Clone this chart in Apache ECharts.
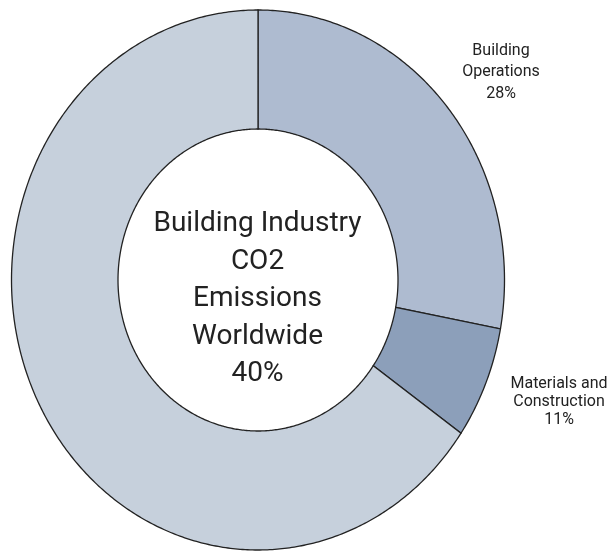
<!DOCTYPE html>
<html>
<head>
<meta charset="utf-8">
<script src="https://cdn.jsdelivr.net/npm/echarts@6/dist/echarts.min.js"></script>
<style>html,body{margin:0;padding:0;background:#fff}#c{width:609px;height:551px}</style>
</head>
<body>
<div id="c"></div>
<script>
// Data
const categories = ['Building Operations', 'Materials and Construction', 'Other'];
const values = [27.9, 6.7, 65.4];
const labelLines = [['Building', 'Operations', '28%'], ['Materials and', 'Construction', '11%'], null];
const colors = ['#aebbd0', '#8c9fba', '#c6d0dc'];
const centerLines = ['Building Industry', 'CO2', 'Emissions', 'Worldwide', '40%'];

const total = values.reduce((a, b) => a + b, 0);
const starts = [];
let acc = 0;
values.forEach(v => { starts.push(acc); acc += v; });

const CX = 258, CY = 280, RX = 246.5, RY = 270, IRX = 140, IRY = 151;

const chart = echarts.init(document.getElementById('c'), null, { renderer: 'canvas' });

function ringPoints(f0, f1) {
  const a0 = -Math.PI / 2 + f0 * 2 * Math.PI;
  const a1 = -Math.PI / 2 + f1 * 2 * Math.PI;
  const n = Math.max(8, Math.ceil((a1 - a0) / 0.01));
  const pts = [];
  for (let i = 0; i <= n; i++) {
    const a = a0 + (a1 - a0) * i / n;
    pts.push([CX + RX * Math.cos(a), CY + RY * Math.sin(a)]);
  }
  for (let i = n; i >= 0; i--) {
    const a = a0 + (a1 - a0) * i / n;
    pts.push([CX + IRX * Math.cos(a), CY + IRY * Math.sin(a)]);
  }
  return pts;
}

chart.setOption({
  animation: false,
  series: [{
    type: 'custom',
    coordinateSystem: 'none',
    data: values.map((v, i) => ({ name: categories[i], value: [starts[i], v] })),
    renderItem: function (params, api) {
      const s = api.value(0) / total;
      const e = (api.value(0) + api.value(1)) / total;
      return {
        type: 'polygon',
        shape: { points: ringPoints(s, e) },
        style: { fill: colors[params.dataIndex], stroke: '#222', lineWidth: 1.3, lineJoin: 'miter' }
      };
    }
  }],
  graphic: [
    {
      type: 'text', z: 100,
      style: {
        text: centerLines.join('\n'), x: 257.5, y: 299,
        fill: '#222', font: '28px Roboto', lineHeight: 37.5,
        align: 'center', verticalAlign: 'middle'
      }
    },
    {
      type: 'text', z: 100,
      style: {
        text: labelLines[0].join('\n'), x: 501, y: 72,
        fill: '#222', font: '16px Roboto', lineHeight: 21.5,
        align: 'center', verticalAlign: 'middle'
      }
    },
    {
      type: 'text', z: 100,
      style: {
        text: labelLines[1].join('\n'), x: 559, y: 402,
        fill: '#222', font: '16px Roboto', lineHeight: 18,
        align: 'center', verticalAlign: 'middle'
      }
    }
  ]
});
</script>
</body>
</html>
